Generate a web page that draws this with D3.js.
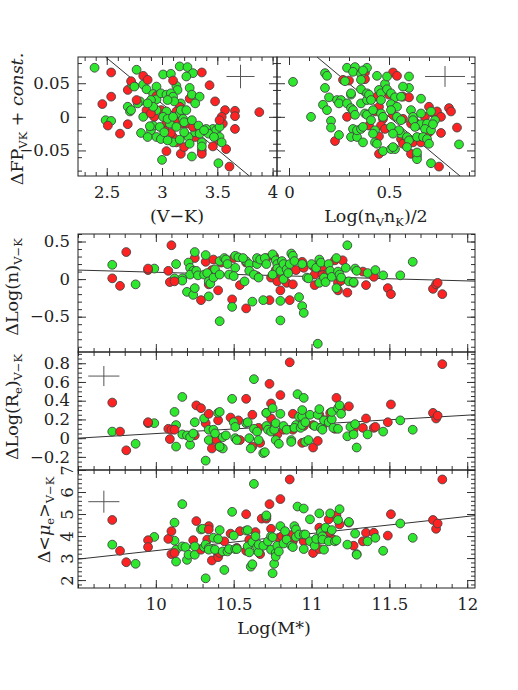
<!DOCTYPE html>
<head>
  <meta charset="utf-8">
  <script src="https://d3js.org/d3.v7.min.js"></script>
  <style>
    body { margin:0; background:#fff; }
    text { fill:#222; }
  </style>
</head>

<body>
  <script>
    // ---- data ----
    // top-left: dFP_VK vs (V-K)
    var fpVKGreen = [[2.39,0.073],[2.49,-0.005],[2.54,-0.006],[2.69,0.015],[2.71,0.008],[2.72,0.010],[2.77,0.070],[2.73,0.048],[2.75,0.045],[2.83,0.048],[2.86,0.041],[3.16,0.075],[3.23,0.074],[3.01,0.063],[3.08,0.064],[3.28,0.065],[3.22,0.060],[3.13,0.046],[3.14,0.040],[2.95,0.045],[2.92,0.034],[2.95,0.026],[2.99,0.035],[3.04,0.033],[3.08,0.035],[3.10,0.030],[2.81,-0.024],[3.00,-0.064],[3.27,-0.059],[3.36,-0.038],[3.36,-0.044],[3.24,-0.030],[3.30,-0.023],[2.90,-0.020],[2.92,-0.013],[2.87,-0.030],[2.89,-0.014],[2.80,0.023],[2.78,0.020],[2.83,0.000],[2.95,0.010],[3.04,0.008],[3.17,0.020],[3.25,0.043],[3.27,0.033],[3.34,0.030],[3.30,0.020],[3.46,-0.018],[3.49,-0.020],[3.52,-0.015],[3.40,-0.018],[3.42,-0.025],[3.52,-0.030],[3.54,-0.038],[3.47,-0.030],[3.51,-0.069],[3.10,-0.038],[3.16,-0.034],[3.20,-0.023],[3.25,-0.040],[2.95,-0.030],[2.99,-0.033],[3.05,-0.035],[2.98,-0.015],[3.07,-0.010],[3.16,0.005],[3.19,-0.003],[3.20,-0.008],[3.27,-0.005],[3.33,-0.013],[3.11,0.023],[3.17,0.010],[3.01,0.000],[3.05,-0.003],[3.10,0.000],[2.90,0.025],[2.92,0.015],[3.34,-0.025],[3.38,-0.020],[3.13,-0.015],[3.02,-0.023],[3.22,0.010],[3.05,0.025],[2.87,0.020]];
    var fpVKRed = [[2.54,0.066],[2.46,0.019],[2.54,0.030],[2.51,-0.013],[2.62,-0.025],[2.69,0.040],[2.69,-0.011],[2.72,0.053],[2.83,0.061],[2.87,0.055],[3.88,0.007],[3.66,0.009],[3.66,0.001],[3.66,-0.018],[3.61,-0.074],[3.58,-0.048],[3.43,0.047],[3.48,0.023],[3.36,0.066],[3.10,0.054],[2.95,0.031],[3.04,-0.051],[3.17,-0.055],[3.36,-0.050],[3.36,-0.055],[3.30,-0.030],[2.93,0.000],[2.86,0.010],[2.99,0.010],[3.25,0.027],[3.55,-0.010],[3.57,0.010],[3.54,0.000],[3.51,-0.035],[3.46,-0.044],[3.13,-0.038],[3.10,-0.030],[3.20,-0.045],[3.04,-0.029],[3.08,-0.024],[3.02,-0.018],[3.10,-0.008],[3.17,0.000],[3.14,-0.005],[3.23,-0.010],[3.28,-0.015],[3.34,-0.018],[3.16,0.015],[3.13,0.008],[3.04,-0.008],[2.90,0.005],[2.77,0.025],[3.52,-0.005],[3.19,-0.010]];

    // top-right: dFP_VK vs Log(nV nK)/2
    var fpNGreen = [[0.02,0.052],[0.11,0.000],[0.18,0.065],[0.19,0.061],[0.18,0.043],[0.20,0.029],[0.17,0.018],[0.19,0.010],[0.21,-0.006],[0.21,-0.016],[0.25,-0.027],[0.28,0.053],[0.29,0.073],[0.33,0.074],[0.32,0.067],[0.36,0.064],[0.39,0.073],[0.37,0.069],[0.36,0.055],[0.36,0.041],[0.31,0.033],[0.31,0.035],[0.24,0.025],[0.26,0.025],[0.25,0.020],[0.29,0.020],[0.31,0.013],[0.32,0.010],[0.33,0.003],[0.32,-0.018],[0.31,-0.030],[0.34,-0.030],[0.34,-0.020],[0.37,-0.038],[0.36,-0.018],[0.37,-0.015],[0.38,0.005],[0.39,0.003],[0.41,-0.005],[0.36,0.020],[0.39,0.025],[0.39,0.035],[0.40,0.033],[0.41,0.025],[0.42,0.010],[0.44,0.061],[0.45,0.040],[0.46,0.035],[0.48,0.049],[0.46,0.025],[0.49,0.041],[0.51,0.035],[0.46,0.005],[0.47,0.000],[0.43,-0.020],[0.42,-0.025],[0.43,-0.038],[0.44,-0.040],[0.47,-0.051],[0.51,-0.048],[0.53,-0.048],[0.51,-0.015],[0.49,0.060],[0.60,0.060],[0.53,0.029],[0.51,0.019],[0.54,0.015],[0.51,0.010],[0.54,0.000],[0.56,-0.005],[0.56,0.030],[0.60,0.043],[0.57,0.045],[0.61,0.010],[0.62,0.000],[0.64,-0.013],[0.66,-0.011],[0.56,-0.025],[0.59,-0.030],[0.55,-0.020],[0.52,-0.025],[0.60,-0.035],[0.64,-0.030],[0.62,-0.005],[0.63,-0.015],[0.64,-0.058],[0.64,-0.063],[0.64,-0.053],[0.66,0.027],[0.66,0.005],[0.71,0.008],[0.69,-0.010],[0.68,-0.018],[0.71,-0.020],[0.67,-0.030],[0.69,-0.033],[0.70,-0.040],[0.73,-0.005],[0.72,-0.011],[0.71,-0.069],[0.85,-0.041],[0.59,-0.045],[0.52,-0.045]];
    var fpNRed = [[0.23,-0.036],[0.27,0.055],[0.30,0.054],[0.38,0.066],[0.38,0.056],[0.29,0.000],[0.40,-0.013],[0.43,0.008],[0.44,0.030],[0.45,0.015],[0.50,0.033],[0.47,-0.003],[0.45,-0.029],[0.45,-0.055],[0.46,-0.013],[0.48,-0.018],[0.52,0.066],[0.54,0.061],[0.52,0.003],[0.57,-0.003],[0.57,0.030],[0.60,0.029],[0.61,-0.010],[0.56,-0.033],[0.57,-0.040],[0.62,-0.038],[0.63,-0.008],[0.61,-0.055],[0.70,0.015],[0.72,0.006],[0.74,0.008],[0.70,-0.023],[0.68,0.000],[0.66,-0.038],[0.76,-0.024],[0.75,-0.074],[0.76,0.000],[0.80,0.013],[0.81,0.008],[0.84,-0.016]];

    // lower panels: x = Log(M*)
    var dnGreen = [[9.72,0.19],[9.87,-0.07],[9.99,0.14],[10.12,0.01],[10.17,0.01],[10.17,-0.02],[10.13,0.20],[10.20,-0.17],[10.24,-0.21],[10.25,-0.12],[10.21,0.22],[10.22,0.15],[10.24,0.11],[10.22,0.06],[10.25,0.36],[10.26,0.11],[10.27,0.05],[10.34,-0.23],[10.32,0.32],[10.31,0.06],[10.33,0.08],[10.34,-0.03],[10.35,-0.06],[10.37,0.02],[10.38,0.13],[10.41,0.24],[10.41,0.06],[10.44,0.28],[10.45,0.26],[10.46,0.20],[10.47,0.06],[10.49,-0.37],[10.41,-0.56],[10.51,0.31],[10.51,0.15],[10.53,0.29],[10.57,-0.03],[10.50,0.04],[10.62,-0.30],[10.58,0.24],[10.60,0.20],[10.60,0.11],[10.63,0.06],[10.56,0.28],[10.65,0.20],[10.66,0.02],[10.65,0.28],[10.67,0.26],[10.69,-0.28],[10.80,-0.29],[10.70,0.28],[10.71,0.20],[10.75,0.33],[10.77,0.25],[10.78,0.20],[10.78,0.14],[10.75,0.06],[10.80,0.11],[10.82,0.00],[10.80,-0.55],[10.81,0.24],[10.82,0.20],[10.84,0.13],[10.86,0.20],[10.87,0.34],[10.85,0.08],[10.88,0.31],[10.89,0.24],[10.92,-0.24],[10.94,-0.36],[10.95,-0.45],[10.94,0.20],[10.97,0.02],[10.98,0.01],[11.00,0.20],[11.03,0.15],[11.05,-0.05],[11.04,-0.86],[11.05,0.26],[11.06,0.22],[11.08,0.02],[11.09,-0.04],[11.11,0.20],[11.12,0.11],[11.13,0.03],[11.16,0.28],[11.17,0.10],[11.18,0.06],[11.19,0.02],[11.16,-0.12],[11.23,0.45],[11.24,-0.03],[11.22,0.15],[11.27,-0.04],[11.28,0.14],[11.29,0.11],[11.36,0.08],[11.41,0.12],[11.46,0.05],[11.57,0.05],[11.65,0.23]];
    var dnRed = [[9.72,0.01],[9.77,-0.09],[9.81,0.36],[9.95,0.12],[9.95,0.14],[10.08,0.11],[10.09,-0.04],[10.10,0.45],[10.12,-0.03],[10.25,0.28],[10.29,-0.28],[10.32,0.23],[10.34,-0.07],[10.36,0.12],[10.37,0.26],[10.40,-0.15],[10.43,0.24],[10.42,0.22],[10.49,-0.27],[10.54,-0.08],[10.50,0.28],[10.58,-0.39],[10.58,0.22],[10.65,0.04],[10.73,-0.28],[10.71,0.28],[10.76,0.30],[10.77,0.12],[10.74,0.02],[10.81,0.04],[10.78,-0.03],[10.80,-0.15],[10.83,0.06],[10.84,-0.05],[10.90,0.12],[10.86,-0.28],[10.88,-0.07],[10.94,0.23],[10.95,0.15],[11.01,0.17],[11.02,0.06],[11.02,-0.08],[11.07,0.06],[11.05,0.16],[11.07,0.17],[11.10,0.06],[11.15,0.25],[11.17,-0.05],[11.19,-0.02],[11.17,-0.15],[11.23,-0.18],[11.20,0.25],[11.27,-0.05],[11.33,0.10],[11.35,-0.08],[11.40,0.03],[11.49,-0.12],[11.51,-0.20],[11.78,-0.13],[11.80,-0.07],[11.81,-0.05],[11.84,-0.20]];

    var dReGreen = [[9.72,0.07],[9.87,-0.06],[9.99,0.16],[10.12,0.28],[10.13,0.14],[10.13,-0.09],[10.17,0.04],[10.17,0.44],[10.20,0.03],[10.22,-0.07],[10.22,0.01],[10.24,0.05],[10.25,0.17],[10.31,0.21],[10.32,-0.24],[10.34,0.09],[10.34,-0.02],[10.37,0.09],[10.38,0.05],[10.40,0.27],[10.41,0.28],[10.43,-0.11],[10.41,-0.09],[10.43,0.01],[10.45,0.03],[10.49,0.42],[10.50,0.17],[10.51,0.12],[10.51,0.00],[10.52,-0.02],[10.58,0.16],[10.59,0.17],[10.60,0.00],[10.61,-0.11],[10.63,0.63],[10.63,0.10],[10.65,0.07],[10.66,-0.02],[10.71,0.27],[10.71,0.13],[10.69,-0.16],[10.70,-0.15],[10.72,0.09],[10.74,0.07],[10.76,0.09],[10.75,0.32],[10.77,0.16],[10.77,-0.02],[10.79,-0.06],[10.80,0.26],[10.82,0.13],[10.84,0.09],[10.87,-0.02],[10.87,-0.04],[10.90,0.14],[10.89,0.11],[10.91,0.47],[10.92,0.23],[10.94,0.23],[10.94,0.30],[10.95,0.43],[10.93,0.11],[10.94,0.14],[10.96,-0.04],[10.98,-0.02],[10.96,0.17],[10.99,0.25],[11.02,0.13],[11.04,0.25],[11.05,0.31],[11.06,0.11],[11.07,0.09],[11.08,0.19],[11.11,0.17],[11.13,0.20],[11.13,0.28],[11.14,0.11],[11.17,0.10],[11.17,0.32],[11.18,0.35],[11.19,0.26],[11.23,0.02],[11.25,0.12],[11.27,0.04],[11.28,0.15],[11.29,-0.10],[11.36,0.04],[11.46,0.07],[11.57,0.19],[11.65,0.09]];
    var dReRed = [[9.72,0.38],[9.77,0.07],[9.81,-0.13],[9.95,0.16],[9.95,0.17],[10.08,0.10],[10.09,-0.01],[10.10,0.09],[10.12,0.09],[10.25,0.03],[10.26,0.35],[10.29,0.32],[10.32,0.16],[10.34,0.26],[10.36,-0.11],[10.37,-0.01],[10.39,-0.02],[10.40,0.19],[10.41,-0.09],[10.42,-0.10],[10.48,0.22],[10.53,0.19],[10.54,-0.02],[10.58,0.42],[10.62,-0.09],[10.62,0.25],[10.66,0.11],[10.67,-0.05],[10.71,0.27],[10.73,0.58],[10.74,0.37],[10.73,0.11],[10.74,0.21],[10.78,0.04],[10.80,0.46],[10.82,0.09],[10.86,0.81],[10.88,0.26],[10.88,0.09],[10.95,0.13],[10.94,-0.05],[11.01,0.14],[11.01,-0.10],[11.05,0.25],[11.04,-0.03],[11.07,0.12],[11.09,0.19],[11.12,0.27],[11.15,0.10],[11.16,0.43],[11.19,0.31],[11.24,0.34],[11.27,0.09],[11.33,0.11],[11.35,0.21],[11.40,0.11],[11.41,0.12],[11.49,0.17],[11.51,0.36],[11.78,0.27],[11.80,0.21],[11.81,0.24],[11.84,0.79]];

    var dMuGreen = [[9.72,3.61],[9.87,2.74],[9.99,3.96],[10.12,4.61],[10.13,2.84],[10.12,3.79],[10.13,3.38],[10.17,5.45],[10.17,3.53],[10.19,3.50],[10.20,2.92],[10.21,3.15],[10.25,3.15],[10.25,3.53],[10.29,4.30],[10.30,4.33],[10.31,3.50],[10.32,2.08],[10.32,3.61],[10.34,3.46],[10.34,3.38],[10.37,3.92],[10.38,3.38],[10.40,3.87],[10.41,4.27],[10.43,3.30],[10.44,2.46],[10.46,3.30],[10.47,3.41],[10.49,5.10],[10.50,4.02],[10.51,3.41],[10.52,3.41],[10.58,4.25],[10.59,4.27],[10.59,3.53],[10.60,3.26],[10.61,2.61],[10.62,2.72],[10.62,3.72],[10.63,6.37],[10.64,3.99],[10.65,3.50],[10.66,3.26],[10.66,3.61],[10.69,3.56],[10.71,4.88],[10.71,4.94],[10.72,3.76],[10.74,3.99],[10.74,3.38],[10.75,3.95],[10.75,2.31],[10.76,2.74],[10.77,3.23],[10.77,3.07],[10.78,3.56],[10.79,3.30],[10.80,4.45],[10.82,3.66],[10.83,4.22],[10.84,3.84],[10.87,3.56],[10.88,3.50],[10.89,4.45],[10.90,4.30],[10.90,3.96],[10.91,5.34],[10.92,4.07],[10.95,4.07],[10.95,5.25],[10.95,3.41],[10.96,4.07],[10.99,4.76],[10.99,3.76],[11.02,3.56],[11.03,3.87],[11.05,5.03],[11.06,4.18],[11.07,3.99],[11.07,3.84],[11.08,3.38],[11.09,4.38],[11.11,3.76],[11.13,4.27],[11.12,5.03],[11.17,4.73],[11.18,5.22],[11.15,3.76],[11.16,3.81],[11.23,3.61],[11.24,4.64],[11.28,4.11],[11.29,3.18],[11.29,3.15],[11.36,3.76],[11.41,3.92],[11.46,3.33],[11.57,4.57],[11.65,3.92]];
    var dMuRed = [[9.72,4.73],[9.77,3.33],[9.81,2.81],[9.95,3.81],[9.95,3.50],[10.08,3.87],[10.10,3.18],[10.10,4.22],[10.12,3.23],[10.24,3.81],[10.26,4.68],[10.27,3.41],[10.29,3.38],[10.33,3.84],[10.34,4.45],[10.34,4.30],[10.36,2.89],[10.40,3.15],[10.40,3.04],[10.41,3.23],[10.44,3.76],[10.48,4.11],[10.52,3.46],[10.54,4.22],[10.58,4.99],[10.58,3.33],[10.60,3.84],[10.64,4.18],[10.66,3.41],[10.67,3.18],[10.68,4.79],[10.71,4.79],[10.73,5.45],[10.74,4.33],[10.80,5.68],[10.79,3.92],[10.81,3.99],[10.84,4.02],[10.86,6.57],[10.88,4.07],[10.88,3.76],[10.94,3.99],[10.95,3.76],[11.01,3.23],[11.04,3.84],[11.05,3.41],[11.05,4.38],[11.07,4.27],[11.08,4.15],[11.09,3.92],[11.11,4.07],[11.12,4.18],[11.11,4.76],[11.16,4.94],[11.18,4.53],[11.14,3.84],[11.24,4.61],[11.27,3.56],[11.33,3.76],[11.35,4.15],[11.40,4.15],[11.49,4.02],[11.51,4.99],[11.78,4.73],[11.80,4.33],[11.81,4.57],[11.84,6.57]];

    // fitted lines (two end points each)
    var fitFpVK = [[2.49,0.089],[3.79,-0.088]];
    var fitFpN  = [[0.14,0.089],[0.855,-0.088]];
    var fitDn   = [[9.5,0.12],[12.05,-0.027]];
    var fitDRe  = [[9.5,0.0],[12.05,0.25]];
    var fitDMu  = [[9.5,2.95],[12.05,4.93]];

    // typical error bars: [x, y, dx, dy]
    var errFpVK = [3.71, 0.060, 0.127, 0.0175];
    var errFpN  = [0.78, 0.060, 0.10, 0.0155];
    var errDRe  = [9.666, 0.663, 0.10, 0.107];
    var errDMu  = [9.666, 5.56, 0.10, 0.50];

    // tick labels
    var vkTicks = [2.5, 3, 3.5, 4];
    var nnTicks = [0, 0.5];
    var massTicks = [10, 10.5, 11, 11.5, 12];
    var fpTicks = [-0.05, 0, 0.05];
    var dnTicks = [-0.5, 0, 0.5];
    var dReTicks = [-0.2, 0, 0.2, 0.4, 0.6, 0.8];
    var dMuTicks = [2, 3, 4, 5, 6, 7];

    // ---- drawing ----
    var width = 518, height = 690;
    var FONT = "'DejaVu Serif', 'Liberation Serif', serif";
    var svg = d3.select("body").append("svg")
      .attr("width", width)
      .attr("height", height)
      .attr("font-family", FONT);

    var GREEN = "#2ee82e", RED = "#ff2222";
    var fmt = d3.format("~g");

    function minorTicks(domain, step) {
      var lo = Math.ceil(domain[0] / step - 1e-6), hi = Math.floor(domain[1] / step + 1e-6);
      return d3.range(lo, hi + 1).map(function(i) { return +(i * step).toFixed(6); });
    }

    function panel(p) {
      var g = svg.append('g').attr('transform', 'translate(' + p.x0 + ',' + p.y0 + ')');
      var x = d3.scaleLinear().domain(p.xDomain).range([0, p.w]);
      var y = d3.scaleLinear().domain(p.yDomain).range([p.h, 0]);

      var xMinor = minorTicks(p.xDomain, p.xStep);
      var yMinor = minorTicks(p.yDomain, p.yStep);
      var xMajor = p.xTicks.filter(function(v) { return v >= p.xDomain[0] && v <= p.xDomain[1]; });
      var yMajor = p.yTicks.filter(function(v) { return v >= p.yDomain[0] && v <= p.yDomain[1]; });

      function side(axisFn, scale, vals, size, tr, labels, pad) {
        var ax = axisFn(scale).tickValues(vals).tickSizeInner(-size).tickSizeOuter(0)
          .tickPadding(pad || 8).tickFormat(labels ? fmt : "");
        var s = g.append('g').attr('transform', tr).call(ax)
          .attr('font-family', FONT).attr('font-size', 16.5);
        s.select('.domain').remove();
        s.selectAll('line').attr('stroke', '#333');
        s.selectAll('text').attr('fill', '#222');
        return s;
      }
      // minor ticks
      side(d3.axisBottom, x, xMinor, 4, 'translate(0,' + p.h + ')', false);
      side(d3.axisTop, x, xMinor, 4, 'translate(0,0)', false);
      side(d3.axisLeft, y, yMinor, 4, 'translate(0,0)', false);
      side(d3.axisRight, y, yMinor, 4, 'translate(' + p.w + ',0)', false);
      // major ticks
      side(d3.axisBottom, x, xMajor, 8, 'translate(0,' + p.h + ')', p.xLabels, 10);
      side(d3.axisTop, x, xMajor, 8, 'translate(0,0)', false);
      var yl = side(d3.axisLeft, y, yMajor, 8, 'translate(0,0)', p.yLabels, 8);
      side(d3.axisRight, y, yMajor, 8, 'translate(' + p.w + ',0)', false);
      if (p.rotateY) {
        yl.selectAll('text').attr('x', 0).attr('dy', null).attr('text-anchor', 'middle')
          .attr('transform', 'translate(-5,0) rotate(-90)');
      }

      g.append('rect').attr('width', p.w).attr('height', p.h)
        .attr('fill', 'none').attr('stroke', '#222').attr('stroke-width', 1);

      // fit line
      g.append('path').datum(p.fit)
        .attr('d', d3.line().x(function(d) { return x(d[0]); }).y(function(d) { return y(d[1]); }))
        .attr('stroke', '#333').attr('stroke-width', 1).attr('fill', 'none');

      // error cross
      if (p.err) {
        var e = p.err;
        g.append('line').attr('x1', x(e[0] - e[2])).attr('x2', x(e[0] + e[2]))
          .attr('y1', y(e[1])).attr('y2', y(e[1])).attr('stroke', '#555');
        g.append('line').attr('x1', x(e[0])).attr('x2', x(e[0]))
          .attr('y1', y(e[1] - e[3])).attr('y2', y(e[1] + e[3])).attr('stroke', '#555');
      }

      // points, interleaving the two samples
      var pts = [];
      var n = Math.max(p.green.length, p.red.length);
      for (var i = 0; i < n; i++) {
        if (i < p.green.length) pts.push({v: p.green[i], c: GREEN});
        if (i < p.red.length) pts.push({v: p.red[i], c: RED});
      }
      g.append('g').selectAll('circle')
        .data(pts)
        .enter()
        .append('circle')
        .attr('r', 4.4)
        .attr('cx', function(d) { return x(d.v[0]); })
        .attr('cy', function(d) { return y(d.v[1]); })
        .attr('fill', function(d) { return d.c; })
        .attr('stroke', '#444')
        .attr('stroke-width', 0.9);
    }

    panel({x0: 78, y0: 57, w: 199, h: 119, xDomain: [2.24, 4.04], yDomain: [-0.088, 0.089],
      xStep: 0.1, yStep: 0.02, xTicks: vkTicks, yTicks: fpTicks, xLabels: true, yLabels: true,
      green: fpVKGreen, red: fpVKRed, fit: fitFpVK, err: errFpVK});
    panel({x0: 277, y0: 57, w: 198, h: 119, xDomain: [-0.06, 0.93], yDomain: [-0.088, 0.089],
      xStep: 0.1, yStep: 0.02, xTicks: nnTicks, yTicks: fpTicks, xLabels: true, yLabels: false,
      green: fpNGreen, red: fpNRed, fit: fitFpN, err: errFpN});
    panel({x0: 78, y0: 234, w: 397, h: 118, xDomain: [9.5, 12.05], yDomain: [-0.97, 0.6],
      xStep: 0.1, yStep: 0.1, xTicks: massTicks, yTicks: dnTicks, xLabels: false, yLabels: true,
      green: dnGreen, red: dnRed, fit: fitDn});
    panel({x0: 78, y0: 352, w: 397, h: 118, xDomain: [9.5, 12.05], yDomain: [-0.34, 0.92],
      xStep: 0.1, yStep: 0.05, xTicks: massTicks, yTicks: dReTicks, xLabels: false, yLabels: true,
      green: dReGreen, red: dReRed, fit: fitDRe, err: errDRe});
    panel({x0: 78, y0: 470, w: 397, h: 118, xDomain: [9.5, 12.05], yDomain: [1.64, 7],
      xStep: 0.1, yStep: 0.2, xTicks: massTicks, yTicks: dMuTicks, xLabels: true, yLabels: true,
      rotateY: true, green: dMuGreen, red: dMuRed, fit: fitDMu, err: errDMu});

    // axis titles built from pieces: [text, style] with style 's' = subscript, 'i' = italic
    function title(xp, yp, parts, rotate) {
      var t = svg.append('text')
        .attr('transform', 'translate(' + xp + ',' + yp + ')' + (rotate ? ' rotate(-90)' : ''))
        .attr('text-anchor', 'middle').attr('font-size', 17.5);
      var shifted = false;
      parts.forEach(function(pt) {
        var s = t.append('tspan').text(pt[0]);
        if (pt[1] === 's') { s.attr('font-size', 11.5).attr('dy', shifted ? 0 : 4); shifted = true; }
        else { if (shifted) s.attr('dy', -4); shifted = false; }
        if (pt[1] === 'i') s.attr('font-style', 'italic');
      });
    }

    title(177, 222, [['(V\u2212K)']]);
    title(376, 222, [['Log(n'], ['V', 's'], ['n'], ['K', 's'], [')/2']]);
    title(274, 634, [['Log(M*)']]);
    title(23, 119, [['\u0394FP'], ['VK', 's'], [' + '], ['const.', 'i']], true);
    title(18, 287, [['\u0394Log(n)'], ['V\u2212K', 's']], true);
    title(18, 407, [['\u0394Log(R'], ['e', 's'], [')'], ['V\u2212K', 's']], true);
    title(50, 520, [['\u0394<'], ['\u03bc', 'i'], ['e', 's'], ['>'], ['V\u2212K', 's']], true);
  </script>
</body>
